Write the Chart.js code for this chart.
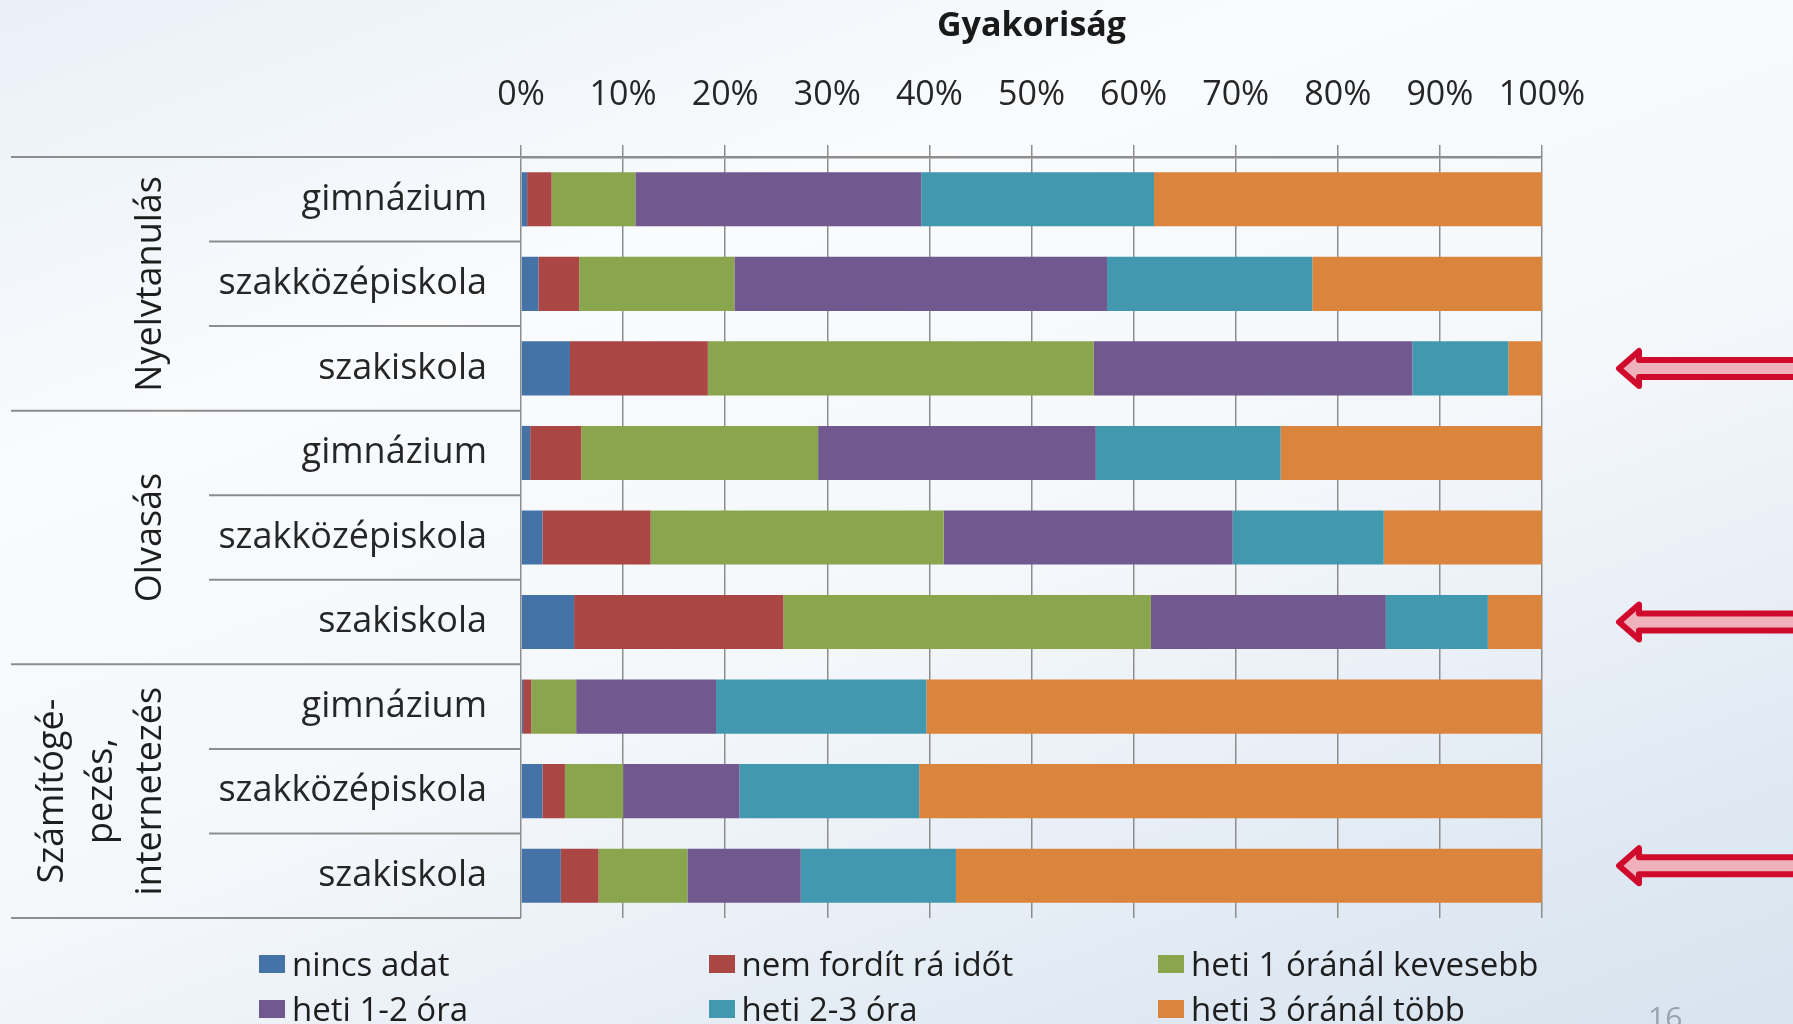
<!DOCTYPE html>
<html>
<head>
<meta charset="utf-8">
<script src="https://cdn.jsdelivr.net/npm/chart.js@4.4.1/dist/chart.umd.min.js"></script>
<style>
  html, body { margin:0; padding:0; width:1793px; height:1024px; overflow:hidden; }
  body {
    background: linear-gradient(160deg, #e9f0f7 0%, #f9fbfd 28%, #f5f8fb 55%, #e3ebf4 80%, #d7e3ef 100%);
    font-family: "Open Sans", sans-serif;
  }
  #wrap { position:relative; width:1793px; height:1024px; }
  canvas { position:absolute; left:0; top:0; }
  .lg { position:absolute; display:flex; align-items:center; font-size:33px; line-height:38px; color:#1e1e1e; white-space:nowrap; }
  .lg i { display:inline-block; width:26px; height:18px; margin-right:7px; }
  #pg { position:absolute; left:1648px; top:996px; font-size:30px; color:#9aa3ad; }
</style>
</head>
<body>
<div id="wrap">
  <canvas id="c" width="1793" height="1024"></canvas>
  <div id="legend"></div>
  <div id="pg">16</div>
</div>
<script>
const categories = ['gimnázium','szakközépiskola','szakiskola','gimnázium','szakközépiskola','szakiskola','gimnázium','szakközépiskola','szakiskola'];
const groupNames = [['Nyelvtanulás'], ['Olvasás'], ['Számítógé-','pezés,','internetezés']];
const groupSizes = [3, 3, 3];
const arrowRows = [2, 5, 8];
const xTicks = [0,10,20,30,40,50,60,70,80,90,100];

const seriesNames = ['nincs adat','nem fordít rá időt','heti 1 óránál kevesebb','heti 1-2 óra','heti 2-3 óra','heti 3 óránál több'];
const nincsAdat  = [0.6, 1.7, 4.8, 0.9, 2.1, 5.2, 0.2, 2.1, 3.9];
const nemFordit  = [2.4, 4.0, 13.5, 5.0, 10.6, 20.5, 0.8, 2.2, 3.7];
const kevesebb1  = [8.2, 15.2, 37.8, 23.2, 28.7, 36.0, 4.4, 5.7, 8.7];
const heti12     = [28.0, 36.5, 31.2, 27.2, 28.3, 23.0, 13.7, 11.4, 11.1];
const heti23     = [22.8, 20.1, 9.4, 18.1, 14.8, 10.0, 20.6, 17.6, 15.2];
const tobb3      = [38.0, 22.5, 3.3, 25.6, 15.5, 5.3, 60.3, 61.0, 57.4];
const seriesColors = ['#4572a7','#aa4643','#89a54e','#71588f','#4198af','#db843d'];

const seriesData = [nincsAdat, nemFordit, kevesebb1, heti12, heti23, tobb3];
const FONT = '"Open Sans", sans-serif';
const LINE = '#8d8d8d';

const decor = {
  id: 'decor',
  afterDraw(chart) {
    const { ctx, chartArea, scales: { y } } = chart;
    const n = categories.length;
    ctx.save();
    ctx.strokeStyle = LINE;
    ctx.lineWidth = 2;
    const bounds = [];
    for (let i = 0; i <= n; i++) {
      let yy;
      if (i === 0) yy = chartArea.top;
      else if (i === n) yy = chartArea.bottom;
      else yy = (y.getPixelForValue(i - 1) + y.getPixelForValue(i)) / 2;
      bounds.push(yy);
    }
    const groupStarts = [0];
    groupSizes.forEach((s, k) => groupStarts.push(groupStarts[k] + s));
    bounds.forEach((yy, i) => {
      const isGroup = groupStarts.includes(i);
      const x0 = isGroup ? 11 : 209;
      ctx.beginPath();
      ctx.moveTo(x0, yy);
      ctx.lineTo(chartArea.left, yy);
      ctx.stroke();
    });
    ctx.fillStyle = '#1e1e1e';
    ctx.font = '36px ' + FONT;
    ctx.textAlign = 'center';
    ctx.textBaseline = 'middle';
    groupNames.forEach((lines, k) => {
      const yc = (bounds[groupStarts[k]] + bounds[groupStarts[k + 1]]) / 2;
      const m = lines.length;
      lines.forEach((t, j) => {
        const x = 149 - (m - 1 - j) * 49;
        ctx.save();
        ctx.translate(x, yc);
        ctx.rotate(-Math.PI / 2);
        ctx.fillText(t, 0, 2);
        ctx.restore();
      });
    });
    const offs = [0, 0, -10];
    arrowRows.forEach((r, k) => {
      const yc = y.getPixelForValue(r) + offs[k];
      const tipX = 1619, backX = 1639;
      ctx.beginPath();
      ctx.moveTo(tipX, yc);
      ctx.lineTo(backX, yc - 17.5);
      ctx.lineTo(backX, yc - 8.5);
      ctx.lineTo(1810, yc - 8.5);
      ctx.lineTo(1810, yc + 8.5);
      ctx.lineTo(backX, yc + 8.5);
      ctx.lineTo(backX, yc + 17.5);
      ctx.closePath();
      ctx.fillStyle = '#efb2bd';
      ctx.fill();
      ctx.lineJoin = 'round';
      ctx.lineWidth = 6;
      ctx.strokeStyle = '#cf0a2c';
      ctx.stroke();
    });
    ctx.restore();
  }
};

function build() {
  const datasets = seriesNames.map((name, i) => ({
    label: name,
    data: seriesData[i],
    backgroundColor: seriesColors[i],
    borderWidth: 0,
    barPercentage: 0.64,
    categoryPercentage: 1.0
  }));

  new Chart(document.getElementById('c'), {
    type: 'bar',
    data: { labels: categories, datasets },
    plugins: [decor],
    options: {
      indexAxis: 'y',
      responsive: false,
      animation: false,
      layout: { padding: { left: 0, right: 251, top: 0, bottom: 106 } },
      plugins: { legend: { display: false }, tooltip: { enabled: false }, title: { display: false } },
      scales: {
        x: {
          position: 'top',
          stacked: true,
          min: 0, max: 100,
          afterBuildTicks(scale) { scale.ticks = xTicks.map(v => ({ value: v })); },
          afterFit(scale) { scale.height = 157; },
          ticks: {
            callback: v => v + '%',
            font: { family: FONT, size: 34 },
            color: '#262626',
            padding: 29,
            maxRotation: 0, autoSkip: false
          },
          grid: { color: LINE, lineWidth: 1.5, tickLength: 12, drawTicks: true },
          border: { display: true, color: LINE, width: 2.5 },
          title: {
            display: true, text: 'Gyakoriság',
            font: { family: FONT, size: 34, weight: 'bold' },
            color: '#1a1a1a',
            padding: { top: 6, bottom: 0 }
          }
        },
        y: {
          stacked: true,
          afterFit(scale) { scale.width = 521; },
          ticks: {
            font: { family: FONT, size: 36 },
            color: '#262626',
            padding: 34,
            autoSkip: false
          },
          grid: { display: false, drawTicks: false },
          border: { display: false }
        }
      }
    }
  });

  const lg = document.getElementById('legend');
  seriesNames.forEach((name, i) => {
    const col = i % 3, row = Math.floor(i / 3);
    const d = document.createElement('div');
    d.className = 'lg';
    d.style.left = (259 + col * 449.5) + 'px';
    d.style.top = (945 + row * 44.6) + 'px';
    const b = document.createElement('i');
    b.style.background = seriesColors[i];
    d.appendChild(b);
    d.appendChild(document.createTextNode(name));
    lg.appendChild(d);
  });
}

if (document.fonts && document.fonts.load) {
  Promise.all([document.fonts.load('34px "Open Sans"'), document.fonts.load('bold 34px "Open Sans"')])
    .then(build, build);
} else { build(); }
</script>
</body>
</html>
